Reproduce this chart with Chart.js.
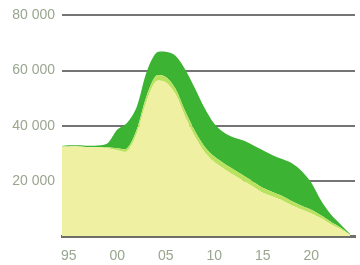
<!DOCTYPE html>
<html>
<head>
<meta charset="utf-8">
<script src="https://cdn.jsdelivr.net/npm/chart.js@4"></script>
<style>
  html, body { margin: 0; padding: 0; background: #fff; }
  #wrap { width: 360px; height: 265px; }
</style>
</head>
<body>
<div id="wrap"><canvas id="grafico"></canvas></div>
<script>
// años y series (apiladas: amarillo abajo, verde claro, verde oscuro arriba)
const anios = [1994, 1995, 1996, 1997, 1998, 1999, 2000, 2001, 2002, 2003,
  2004, 2005, 2006, 2007, 2008, 2009, 2010, 2011, 2012, 2013,
  2014, 2015, 2016, 2017, 2018, 2019, 2020, 2021, 2022, 2023, 2024];
const serieAmarilla = [32500, 32500, 32500, 32300, 32100, 31800, 31100, 30700, 37100, 48600,
  56100, 55700, 51400, 43200, 36100, 30400, 26800, 24300, 22100, 20000,
  17900, 15700, 14300, 12900, 11100, 9600, 8200, 6400, 4300, 2500, 300];
const serieVerdeClaro = [0, 0, 0, 0, 200, 400, 700, 1000, 1500, 2000,
  2000, 2000, 2000, 2000, 2000, 2000, 2000, 2000, 2000, 1900,
  1800, 1800, 1700, 1600, 1500, 1400, 1300, 1100, 900, 600, 200];
const serieVerdeOscuro = [0, 400, 400, 400, 500, 1400, 6800, 9300, 8200, 8700,
  8300, 9100, 12000, 15200, 15500, 14000, 11900, 11200, 11600, 12700,
  13200, 13600, 13300, 13400, 13800, 12600, 9800, 5400, 2700, 1200, 200];
const ticksX = [1995, 2000, 2005, 2010, 2015, 2020];
const ticksY = [20000, 40000, 60000, 80000];

const aPuntos = vals => anios.map((a, i) => ({ x: a, y: vals[i] }));

const ctx = document.getElementById('grafico').getContext('2d');
new Chart(ctx, {
  type: 'line',
  data: {
    datasets: [
      { data: aPuntos(serieAmarilla), backgroundColor: '#eff0a2', fill: 'origin' },
      { data: aPuntos(serieVerdeClaro), backgroundColor: '#b9e35c', fill: '-1' },
      { data: aPuntos(serieVerdeOscuro), backgroundColor: '#3db333', fill: '-1' }
    ]
  },
  options: {
    responsive: true,
    maintainAspectRatio: false,
    animation: false,
    layout: { padding: { top: 12, right: 5, left: 0, bottom: 0 } },
    elements: {
      point: { radius: 0 },
      line: { borderWidth: 0, tension: 0.3 }
    },
    plugins: { legend: { display: false }, tooltip: { enabled: false } },
    scales: {
      x: {
        type: 'linear',
        min: 1994.3,
        max: 2024.5,
        grid: { display: false },
        border: { display: true, color: '#6f6f68', width: 3 },
        afterBuildTicks: s => { s.ticks = ticksX.map(v => ({ value: v })); },
        ticks: {
          autoSkip: false,
          color: '#98a68e',
          font: { family: 'Liberation Sans', size: 14 },
          padding: 4,
          maxRotation: 0,
          callback: v => String(v % 100).padStart(2, '0')
        },
        afterFit: s => { s.height = 29; }
      },
      y: {
        stacked: true,
        min: 0,
        max: 80000,
        grid: { color: '#747474', lineWidth: 2, drawTicks: false },
        border: { display: false },
        afterBuildTicks: s => { s.ticks = ticksY.map(v => ({ value: v })); },
        ticks: {
          color: '#98a68e',
          font: { family: 'Liberation Sans', size: 14 },
          padding: 7,
          callback: v => v.toLocaleString('en-US').replace(',', ' ')
        },
        afterFit: s => { s.width = 62; }
      }
    }
  }
});
</script>
</body>
</html>
